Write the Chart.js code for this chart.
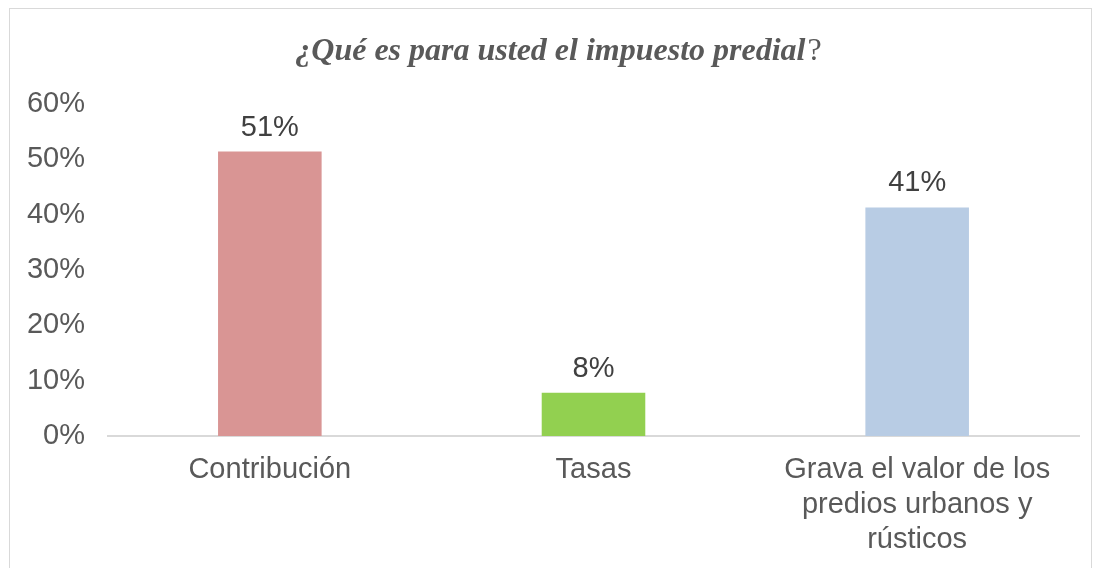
<!DOCTYPE html>
<html>
<head>
<meta charset="utf-8">
<script src="https://cdn.jsdelivr.net/npm/chart.js@4/dist/chart.umd.min.js"></script>
<style>
  html, body { margin: 0; padding: 0; background: #fff; }
  #box {
    position: absolute; left: 9px; top: 8px;
    width: 1081px; height: 570px;
    border: 1px solid #d9d9d9;
  }
  #wrap { width: 1081px; height: 559px; }
</style>
</head>
<body>
<div id="box"><div id="wrap"><canvas id="chart"></canvas></div></div>
<script>
const categories = ['Contribución', 'Tasas', ['Grava el valor de los', 'predios urbanos y', 'rústicos']];
const shares = [0.514, 0.078, 0.413];
const barColors = ['#d99594', '#92d050', '#b8cce4'];
const titleMain = '¿Qué es para usted el impuesto predial';
const titleEnd = '?';

// title with mixed style (bold italic text, plain question mark)
const titlePlugin = {
    id: 'mixedTitle',
    afterDraw(chart) {
        const ctx = chart.ctx;
        ctx.save();
        ctx.fillStyle = '#595959';
        ctx.textBaseline = 'middle';
        const f1 = 'italic bold 32px "Liberation Serif", "Times New Roman", serif';
        const f2 = '32px "Liberation Serif", "Times New Roman", serif';
        ctx.font = f1;
        const w1 = ctx.measureText(titleMain).width;
        ctx.font = f2;
        const w2 = ctx.measureText(titleEnd).width;
        const x0 = chart.width / 2 + 7 - (w1 + w2) / 2;
        const y = 43;
        ctx.font = f1;
        ctx.textAlign = 'left';
        ctx.fillText(titleMain, x0, y);
        ctx.font = f2;
        ctx.fillText(titleEnd, x0 + w1 + 2, y);
        ctx.restore();
    }
};

const valueLabels = {
    id: 'valueLabels',
    afterDatasetsDraw(chart) {
        const ctx = chart.ctx;
        const meta = chart.getDatasetMeta(0);
        ctx.save();
        ctx.fillStyle = '#404040';
        ctx.font = '29px Arial, "Liberation Sans", sans-serif';
        ctx.textAlign = 'center';
        ctx.textBaseline = 'alphabetic';
        meta.data.forEach((bar, i) => {
            ctx.fillText(Math.round(shares[i] * 100) + '%', bar.x, bar.y - 16);
        });
        ctx.restore();
    }
};

new Chart(document.getElementById('chart'), {
    type: 'bar',
    data: {
        labels: categories,
        datasets: [{
            data: shares,
            backgroundColor: barColors,
            barPercentage: 0.32,
            categoryPercentage: 1
        }]
    },
    options: {
        responsive: true,
        maintainAspectRatio: false,
        animation: false,
        layout: { padding: { top: 95, right: 12, left: 0, bottom: 0 } },
        plugins: {
            legend: { display: false },
            title: { display: false },
            tooltip: { enabled: false }
        },
        scales: {
            y: {
                min: 0,
                max: 0.6,
                ticks: {
                    stepSize: 0.1,
                    color: '#595959',
                    font: { family: 'Arial, "Liberation Sans", sans-serif', size: 29 },
                    padding: 23,
                    callback: v => Math.round(v * 100) + '%'
                },
                grid: { display: false, drawTicks: false },
                border: { display: false },
                afterFit(scale) { scale.width = 98; }
            },
            x: {
                ticks: {
                    color: '#595959',
                    font: { family: 'Arial, "Liberation Sans", sans-serif', size: 29, lineHeight: 1.2 },
                    padding: 17,
                    maxRotation: 0,
                    autoSkip: false
                },
                grid: { display: false, drawTicks: false },
                border: { display: true, color: '#d9d9d9', width: 2 },
                afterFit(scale) { scale.height = 132; }
            }
        }
    },
    plugins: [titlePlugin, valueLabels]
});
</script>
</body>
</html>
